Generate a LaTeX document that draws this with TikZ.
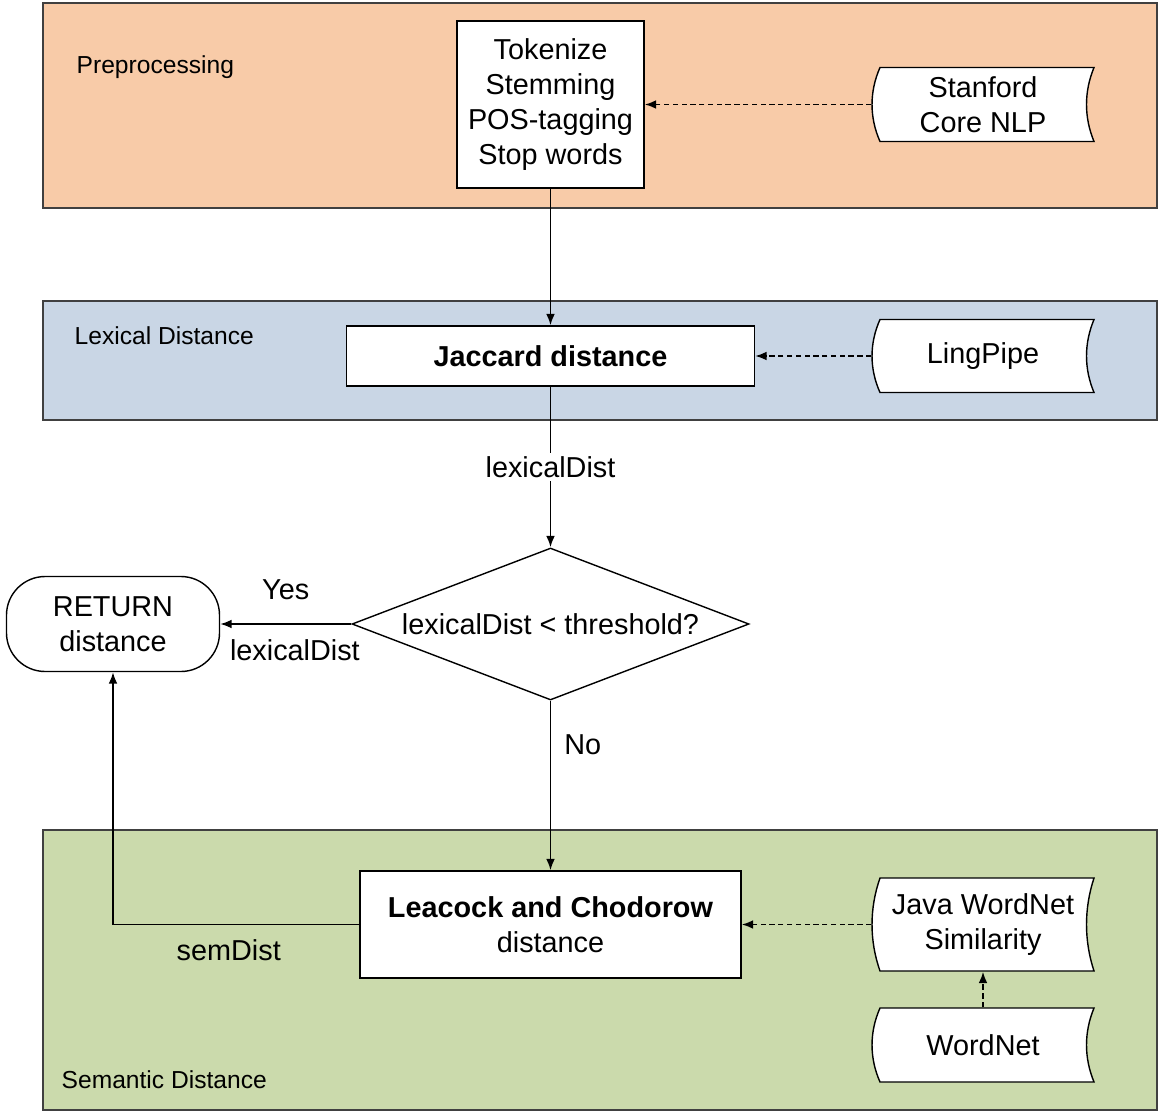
\documentclass[tikz,border=0pt]{standalone}
\usepackage{fontspec}
\setmainfont{Liberation Sans}
\usetikzlibrary{arrows.meta,positioning,shapes.geometric}

\definecolor{prepfill}{HTML}{F8CBA8}
\definecolor{lexfill}{HTML}{C9D6E5}
\definecolor{semfill}{HTML}{CBDAAC}

\tikzset{
  pics/stored/.style 2 args={code={
    \draw[line width=0.8pt, fill=white] (-2.06,#1) -- (2.22,#1)
      .. controls (2.02,0.35*#1) and (2.02,-0.35*#1) .. (2.22,-#1)
      -- (-2.06,-#1)
      .. controls (-2.273,-0.35*#1) and (-2.273,0.35*#1) .. (-2.06,#1) -- cycle;
    \node[inner sep=0, minimum width=4.44cm, minimum height={2*#1cm}, align=center] (-t) {#2};
  }}
}

\begin{document}
\begin{tikzpicture}[>={Latex[length=6.5pt,width=5pt]}, thick, node distance=5cm, on grid,
  font=\fontsize{16.4}{19.8}\selectfont,
  panel/.style={draw=black!75, line width=0.8pt},
  panellabel/.style={anchor=west, inner sep=0, font=\fontsize{14}{16}\selectfont},
  procbox/.style={draw, fill=white, align=center, inner sep=0},
  decision/.style={diamond, draw, fill=white, aspect=2.6, inner sep=0, minimum width=7.94cm, minimum height=3.04cm},
  terminal/.style={draw, fill=white, rounded corners=22pt, align=center, minimum width=4.26cm, minimum height=1.9cm},
  flow/.style={->, line width=1pt},
  dataflow/.style={->, line width=1pt, densely dashed}]

\useasboundingbox (0,0) rectangle (23.16,-22.26);

% panels
\draw[panel, fill=prepfill] (0.86,-0.06) rectangle (23.14,-4.16);
\draw[panel, fill=lexfill] (0.86,-6.02) rectangle (23.14,-8.40);
\draw[panel, fill=semfill] (0.86,-16.60) rectangle (23.14,-22.20);
\node[panellabel] (prelbl) at (1.52,-1.34) {Preprocessing};
\node[panellabel] (lexlbl) at (1.48,-6.72) {Lexical Distance};
\node[panellabel] (semlbl) at (1.22,-21.6) {Semantic Distance};

% main chain
\node[procbox, minimum width=3.74cm, minimum height=3.34cm] (tok) at (11.01,-2.09) {Tokenize\\Stemming\\POS-tagging\\Stop words};
\node[procbox, minimum width=8.16cm, minimum height=1.2cm] (jac) [below=5.03cm of tok] {\bfseries Jaccard distance};
\node[decision] (thr) [below=5.36cm of jac] {lexicalDist < threshold?};
\node[terminal] (ret) [left=8.75cm of thr] {RETURN\\distance};
\node[procbox, minimum width=7.62cm, minimum height=2.14cm] (lc) [below=6.01cm of thr] {\textbf{Leacock and Chodorow}\\distance};

% resources
\pic (snlp) at (19.66,0 |- tok) {stored={0.74}{Stanford\\Core NLP}};
\pic (ling) at (19.66,0 |- jac) {stored={0.73}{LingPipe}};
\pic (jws) at (19.66,0 |- lc) {stored={0.93}{Java WordNet\\Similarity}};
\pic (wn) at (19.66,-20.9) {stored={0.74}{WordNet}};

% connectors
\path
  (tok) edge[flow] (jac)
  (jac) edge[flow] node[fill=white, inner sep=2pt] {lexicalDist} (thr)
  (thr) edge[flow] node[above=10pt, pos=0.5] {Yes} node[below=5pt, pos=0.43] {lexicalDist} (ret)
  (thr) edge[flow] node[right=4pt, pos=0.26] {No} (lc)
  (snlp-t) edge[dataflow] (tok)
  (ling-t) edge[dataflow] (jac)
  (jws-t) edge[dataflow] (lc)
  (wn-t) edge[dataflow] (jws-t);
\draw[flow] (lc) -| node[below=5pt, pos=0.265] {semDist} (ret);

\end{tikzpicture}
\end{document}
